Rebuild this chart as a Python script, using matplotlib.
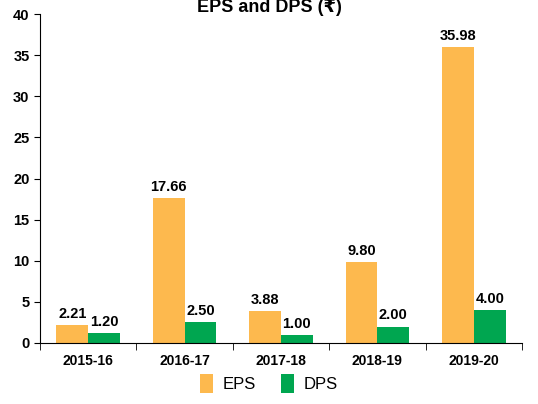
import matplotlib
matplotlib.use("Agg")
import matplotlib.pyplot as plt
import numpy as np

plt.rcParams['font.family'] = ['Liberation Sans', 'DejaVu Sans']

categories = ["2015-16", "2016-17", "2017-18", "2018-19", "2019-20"]
eps = [2.21, 17.66, 3.88, 9.80, 35.98]
dps = [1.20, 2.50, 1.00, 2.00, 4.00]

fig = plt.figure(figsize=(5.38, 4.04), dpi=100)
ax = fig.add_axes([0.0743, 0.151, 0.896, 0.814])

x = np.arange(len(categories))
w = 0.33
b1 = ax.bar(x - w/2, eps, w, color="#FDB94E", label="EPS")
b2 = ax.bar(x + w/2, dps, w, color="#00A650", label="DPS")

for rects, vals in ((b1, eps), (b2, dps)):
    for r, v in zip(rects, vals):
        ax.text(r.get_x() + r.get_width()/2, v + 0.5, f"{v:.2f}", ha="center", va="bottom",
                fontsize=10.5, fontweight="bold")

ax.set_xlim(-0.5, len(categories) - 0.5)
ax.set_ylim(0, 40)
ax.set_yticks(range(0, 41, 5))
ax.set_xticks(x)
ax.set_xticklabels(categories, fontsize=10, fontweight="bold")
ax.set_xticks(np.arange(-0.5, len(categories), 1), minor=True)
ax.tick_params(axis="x", which="major", length=0, pad=8)
ax.tick_params(axis="x", which="minor", length=5, direction="out")
ax.tick_params(axis="y", length=4, direction="out", labelsize=10.5)
for lab in ax.get_yticklabels():
    lab.set_fontweight("bold")
ax.spines["top"].set_visible(False)
ax.spines["right"].set_visible(False)

fig.text(0.5, 0.982, "EPS and DPS (₹)", ha="center", va="center", fontsize=13, fontweight="bold")

fig.legend(handles=[b1, b2], loc="lower center", bbox_to_anchor=(0.5, -0.01), ncol=2,
           frameon=False, fontsize=12, handlelength=0.75, handleheight=1.4, handletextpad=0.6,
           columnspacing=1.5)

fig.savefig("out.png", dpi=100)
